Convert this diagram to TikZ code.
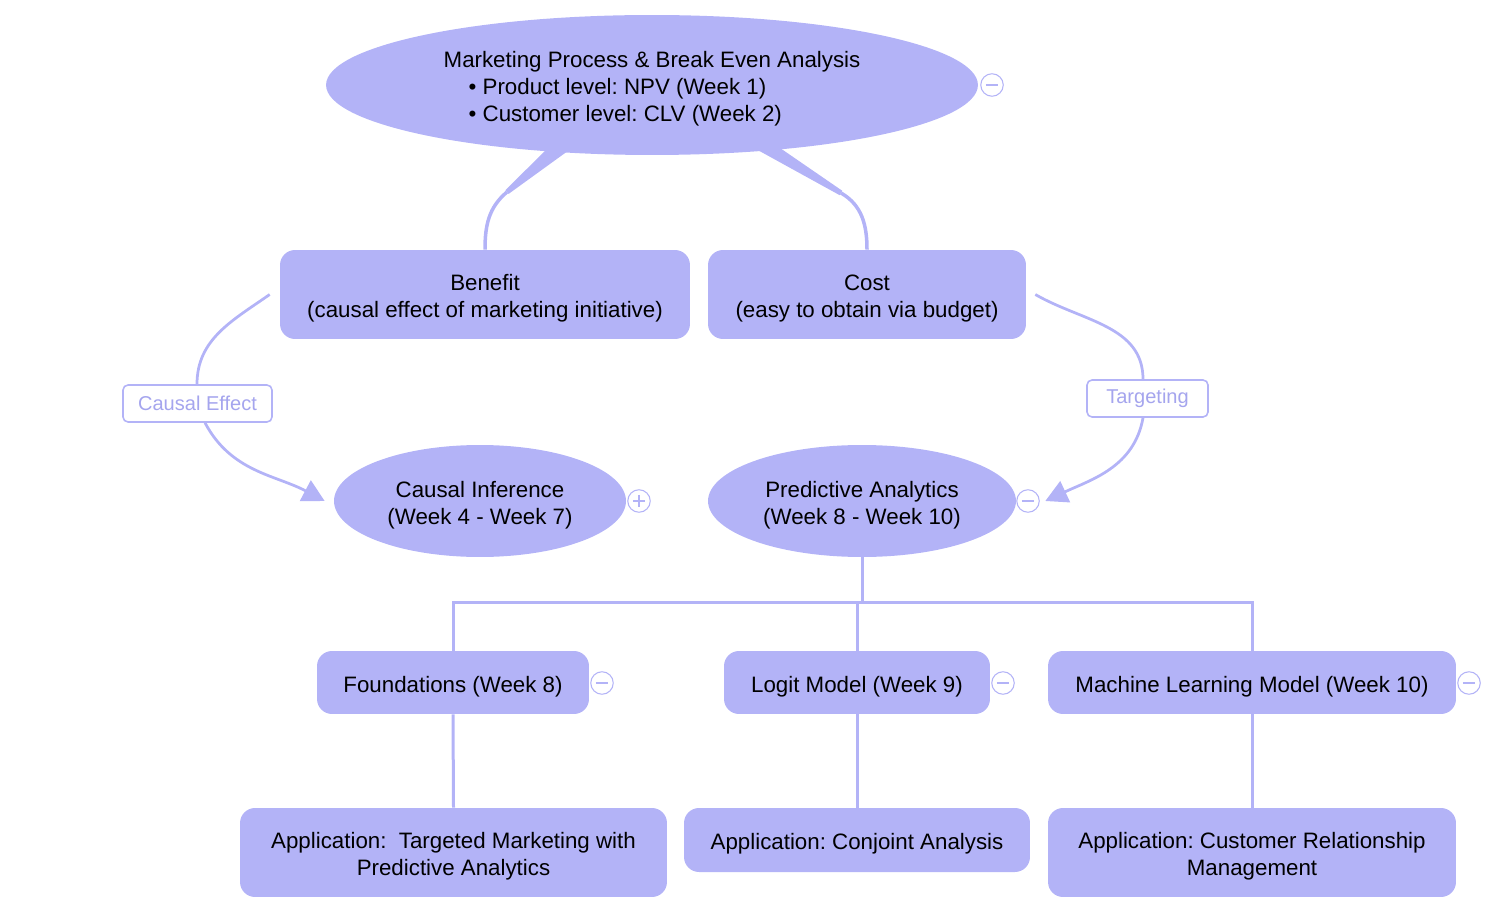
\documentclass[tikz,border=0pt]{standalone}
\usepackage{fontspec}
\setmainfont{Liberation Sans}
\usetikzlibrary{shapes.geometric,arrows.meta,calc}
\definecolor{mind}{RGB}{179,179,247}
\definecolor{mindtext}{RGB}{165,165,238}
\newcommand{\lift}{\rule{0pt}{13.8pt}}
\frenchspacing

\begin{document}
\begin{tikzpicture}[x=0.02cm,y=-0.02cm,
    txt/.style={font=\fontsize{12.7}{15.4}\selectfont,align=center,text=black},
    topic/.style={txt,fill=mind,rounded corners=0.3cm,inner sep=0pt},
    bubble/.style={txt,ellipse,fill=mind,inner sep=0pt},
    tag/.style={draw=mind,line width=0.9pt,fill=white,rounded corners=0.1cm,text=mindtext,
      font=\fontsize{11.4}{13}\selectfont,minimum height=0.74cm,inner sep=0pt},
    link/.style={draw=mind,line width=0.06cm},
    rel/.style={draw=mind,line width=0.055cm},
    tipend/.style={-{Triangle[length=0.44cm,width=0.46cm]}},
    tgl/.style={circle,draw=mind,fill=white,line width=0.6pt,minimum size=0.45cm,inner sep=0pt},
    tglminus/.style={tgl,path picture={
      \draw[mind,line width=0.6pt] ([xshift=0.1cm]path picture bounding box.west) -- ([xshift=-0.1cm]path picture bounding box.east);}},
    tglplus/.style={tgl,path picture={
      \draw[mind,line width=0.6pt] ([xshift=0.1cm]path picture bounding box.west) -- ([xshift=-0.1cm]path picture bounding box.east);
      \draw[mind,line width=0.6pt] ([yshift=-0.1cm]path picture bounding box.north) -- ([yshift=0.1cm]path picture bounding box.south);}}
  ]
  \useasboundingbox (0,0) rectangle (1510,918);

  % main topic and first level
  \node[bubble,minimum width=13.04cm,minimum height=2.8cm,align=left] (root) at (652,85)
    {\lift Marketing Process \& Break Even Analysis\\\hspace*{0.5cm}• Product level: NPV (Week 1)\\\hspace*{0.5cm}• Customer level: CLV (Week 2)};
  \node[tglminus] (roottgl) at (992,85) {};
  \node[topic,minimum width=8.2cm,minimum height=1.78cm] (benefit) at (485,294.5)
    {\lift Benefit\\(causal effect of marketing initiative)};
  \node[topic,minimum width=6.36cm,minimum height=1.78cm] (cost) at (867,294.5)
    {\lift Cost\\(easy to obtain via budget)};

  % tapered branches
  \fill[mind] (548,148) -- (572,148) -- (508.6,193.9) -- (505.4,190.1) -- cycle;
  \coordinate (lknee) at (507,192);
  \draw[link,line width=0.07cm] (lknee) to[out=220,in=90] (benefit.north);
  \fill[mind] (754,148) -- (780,148) -- (842.3,190.8) -- (839.7,195.2) -- cycle;
  \coordinate (rknee) at (841,193);
  \draw[link,line width=0.07cm] (rknee) to[out=-30,in=90] (cost.north);

  % second level
  \node[bubble,minimum width=5.84cm,minimum height=2.24cm] (ci) at (480,501)
    {\lift Causal Inference\\(Week 4 - Week 7)};
  \node[tglplus] (citgl) at (639,501) {};
  \node[bubble,minimum width=6.16cm,minimum height=2.24cm] (pa) at (862,501)
    {\lift Predictive Analytics\\(Week 8 - Week 10)};
  \node[tglminus] (patgl) at (1028,501) {};

  % relationships
  \node[tag,minimum width=2.98cm] (ce) at (197.5,403.5) {Causal Effect};
  \node[tag,minimum width=2.42cm] (tg) at (1147.5,398.5) {Targeting};
  \draw[rel] ([xshift=-0.2cm]benefit.west) to[out=215,in=90] ([xshift=-0.01cm]ce.north);
  \draw[rel,tipend] ([xshift=0.15cm]ce.south) to[out=-62,in=152] ([xshift=-0.18cm]ci.west);
  \draw[rel] ([xshift=0.18cm]cost.east) to[out=-30,in=90] ([xshift=-0.09cm]tg.north);
  \draw[rel,tipend] ([xshift=-0.09cm]tg.south) to[out=-100,in=25] ([xshift=0.58cm]pa.east);

  % third level
  \node[topic,minimum width=5.44cm,minimum height=1.26cm] (found) at (453,682.5) {\lift Foundations (Week 8)};
  \node[tglminus] (foundtgl) at (602,683) {};
  \node[topic,minimum width=5.32cm,minimum height=1.26cm] (logit) at (857,682.5) {\lift Logit Model (Week 9)};
  \node[tglminus] (logittgl) at (1003,683) {};
  \node[topic,minimum width=8.16cm,minimum height=1.26cm] (ml) at (1252,682.5) {\lift Machine Learning Model (Week 10)};
  \node[tglminus] (mltgl) at (1469,683) {};
  \node[topic,minimum width=8.54cm,minimum height=1.78cm] (app1) at (453.5,852.5)
    {\lift Application:\ \ Targeted Marketing with\\Predictive Analytics};
  \node[topic,minimum width=6.92cm,minimum height=1.28cm] (app2) at (857,840)
    {\lift Application: Conjoint Analysis};
  \node[topic,minimum width=8.16cm,minimum height=1.78cm] (app3) at (1252,852.5)
    {\lift Application: Customer Relationship\\Management};

  % tree lines
  \coordinate (bus) at (862,602);
  \draw[link] (pa.south) -- (bus);
  \draw[link] (found.north) |- (bus) -| (ml.north);
  \draw[link] (logit.north) -- (logit.north |- bus);
  \draw[link] (found.south) -- (app1.north);
  \draw[link] (logit.south) -- (app2.north);
  \draw[link] (ml.south) -- (app3.north);
\end{tikzpicture}
\end{document}
